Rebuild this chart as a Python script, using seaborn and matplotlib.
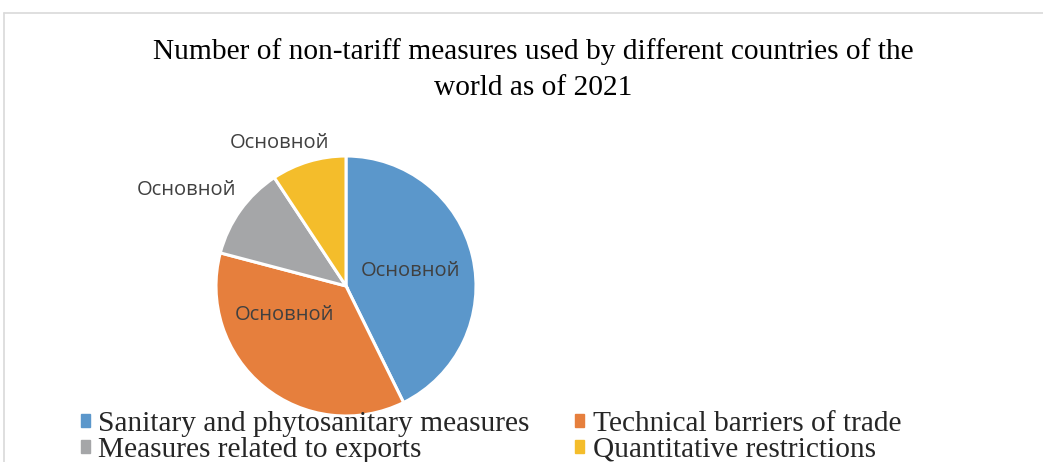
import matplotlib
matplotlib.use("Agg")
import matplotlib.pyplot as plt
from matplotlib.lines import Line2D
import seaborn as sns

# Share of non-tariff measures by type (percent)
categories = [
    "Sanitary and phytosanitary measures",
    "Technical barriers of trade",
    "Measures related to exports",
    "Quantitative restrictions",
]
shares = [42.7, 36.4, 11.6, 9.3]
slice_labels = ["Основной", "Основной", "Основной", "Основной"]
title = "Number of non-tariff measures used by different countries of the\nworld as of 2021"

sns.set_theme(style="white")
colors = sns.color_palette(["#5B97CB", "#E67F3D", "#A5A6A8", "#F4BD2B"])

W, H = 1043, 462
fig = plt.figure(figsize=(W / 100, H / 100), dpi=100)
fig.patch.set_facecolor("white")

# Chart-area border (top and left edges)
fig.add_artist(Line2D([4 / W, 1.0], [1 - 12.5 / H, 1 - 12.5 / H],
                      transform=fig.transFigure, color="#D9D9D9", lw=1.2))
fig.add_artist(Line2D([4 / W, 4 / W], [0, 1 - 12.5 / H],
                      transform=fig.transFigure, color="#D9D9D9", lw=1.2))

fig.text(533 / W, 1 - 70 / H, title, ha="center", va="center",
         family="Liberation Serif", fontsize=21.2, linespacing=1.5, color="black")

cx, cy, r = 346, 286, 130
ax = fig.add_axes([(cx - r) / W, (H - cy - r) / H, 2 * r / W, 2 * r / H])
wedges, _ = ax.pie(shares, colors=colors, startangle=90, counterclock=False,
                   radius=1.0, wedgeprops=dict(edgecolor="white", linewidth=2.2))
ax.set_xlim(-1, 1)
ax.set_ylim(-1, 1)
ax.set_aspect("equal")
ax.axis("off")

# Data-label placement (inside for the large slices, outside for the small ones)
label_pos = [(0.50, 0.115), (-0.47, -0.22), (-1.23, 0.74), (-0.51, 1.10)]
for (lx, ly), txt in zip(label_pos, slice_labels):
    ax.text(lx, ly, txt, ha="center", va="center", fontsize=14.5,
            family="Open Sans", color="#404040", clip_on=False)

# Legend entries laid out row by row in two columns
order = [0, 2, 1, 3]
handles = [plt.Rectangle((0, 0), 1, 1, color=colors[i]) for i in order]
labels = [categories[i] for i in order]
leg = fig.legend(handles, labels, ncol=2, loc="upper left",
                 bbox_to_anchor=(66 / W, 1 - 396 / H), frameon=False,
                 prop=dict(family="Liberation Serif", size=21.2),
                 handlelength=0.3, handleheight=0.3, handletextpad=0.3,
                 columnspacing=1.55, labelspacing=0.0, borderpad=0)

fig.savefig("out.png", dpi=100, facecolor="white")
